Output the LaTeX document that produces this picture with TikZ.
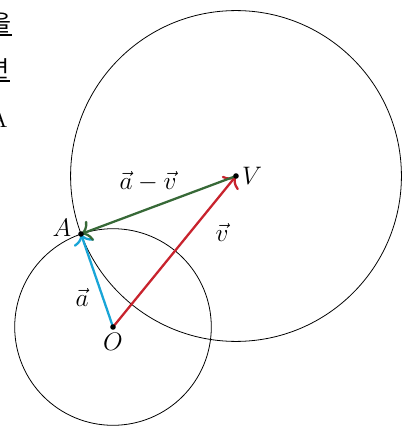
\documentclass[tikz,border=0pt]{standalone}
\usepackage{amsmath}
\usepackage{amssymb}
\usepackage{fontspec}
\usepackage{tikz}
\usetikzlibrary{
	arrows.meta,
	calc,
	through,
	positioning
}
\newfontfamily\krfont{Noto Sans CJK KR}
\definecolor{VecBlue}{RGB}{25,165,215}
\definecolor{VecRed}{RGB}{200,35,45}
\definecolor{VecGreen}{RGB}{55,105,55}

\begin{document}
\begin{tikzpicture}[x=0.02cm, y=-0.02cm, font=\fontsize{14}{14}\selectfont,
		vec/.style={line width=1.3pt, -{To[scale=1.3]}}]
			\useasboundingbox (0,0) rectangle (406,428);
			% cut-off text of the page
			\node[anchor=base east, inner sep=0pt, font=\krfont\fontsize{13}{13}\selectfont] (t1) at (12,32) {을};
			\node[anchor=base east, inner sep=0pt, font=\krfont\fontsize{13}{13}\selectfont] (t2) at (10,78) {면};
			\node[anchor=base east, inner sep=0pt, font=\fontsize{14}{14}\selectfont] (t3) at (8,128) {A};
			\draw[line width=0.6pt] (t1.south west |- 0,35) -- (12,35);
			\draw[line width=0.6pt] (t2.south west |- 0,81) -- (10,81);
			\coordinate (O) at (113,327);
			\coordinate (A) at (81,234);
			\coordinate (V) at (236,176);
			\node[draw, line width=0.45pt, circle through=(A)] (cO) at (O) {};
			\node[draw, line width=0.45pt, circle through=(A)] (cV) at (V) {};
			\draw[vec, VecBlue] (O) -- (A);
			\draw[vec, VecRed] (O) -- (V);
			\draw[vec, VecGreen] (V) -- (A);
			\fill (O) circle (2.8);
			\fill (A) circle (2.8);
			\fill (V) circle (2.8);
			\node (lO) at (113,342) {$O$};
			\node (lA) at (62,228) {$A$};
			\node (lV) at (252,176) {$V$};
			\node (la) at (82,297) {$\vec{a}$};
			\node (lv) at (222,232) {$\vec{v}$};
			\node (lav) at (148,182) {$\vec{a}-\vec{v}$};
		\end{tikzpicture}
\end{document}
